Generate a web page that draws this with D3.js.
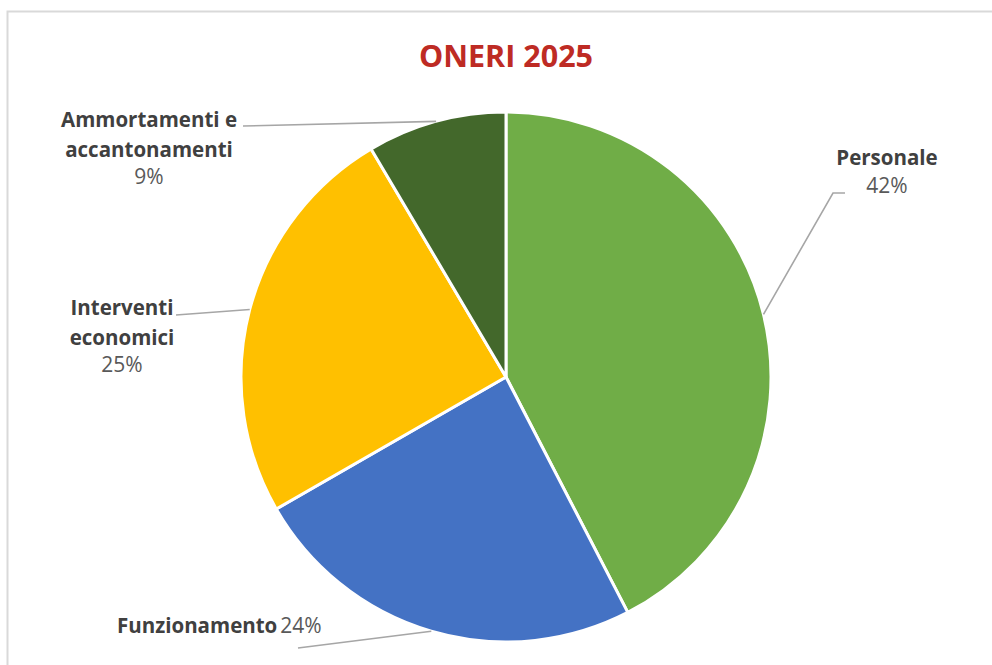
<!DOCTYPE html>
<html>
<head>
<meta charset="utf-8">
<script src="https://cdn.jsdelivr.net/npm/d3@7"></script>
<style>
  html, body { margin: 0; padding: 0; background: #fff; }
  svg { display: block; }
</style>
</head>
<body>
<svg id="chart" width="992" height="665"></svg>
<script>
// Cost breakdown for 2025
const categories = ["Personale", "Funzionamento", "Interventi economici", "Ammortamenti e accantonamenti"];
const shares = [42.4, 24.3, 24.8, 8.5];
const sliceColors = ["#70AD47", "#4472C4", "#FFC000", "#43682B"];
const labelLines = [["Personale"], ["Funzionamento"], ["Interventi", "economici"], ["Ammortamenti e", "accantonamenti"]];
const title = "ONERI 2025";

const W = 992, H = 665;
const cx = 506, cy = 377, R = 265;
const FONT = "'Open Sans', sans-serif";

const svg = d3.select("#chart");

// chart frame
svg.append("rect")
  .attr("x", 7.5).attr("y", 11.5)
  .attr("width", W + 20).attr("height", H + 20)
  .attr("fill", "#fff")
  .attr("stroke", "#d9d9d9").attr("stroke-width", 2);

svg.append("text")
  .attr("x", cx).attr("y", 67)
  .attr("text-anchor", "middle")
  .attr("font-family", FONT)
  .attr("font-weight", 700)
  .attr("font-size", 30.5)
  .attr("fill", "#BE2B24")
  .text(title);

const pie = d3.pie().sort(null).value(d => d);
const arcs = pie(shares);
const arc = d3.arc().innerRadius(0).outerRadius(R);
const edge = d3.arc().innerRadius(R).outerRadius(R);

const g = svg.append("g").attr("transform", `translate(${cx},${cy})`);
g.selectAll("path.slice")
  .data(arcs)
  .join("path")
  .attr("class", "slice")
  .attr("d", arc)
  .attr("fill", (d, i) => sliceColors[i])
  .attr("stroke", "#fff")
  .attr("stroke-width", 3)
  .attr("stroke-linejoin", "round");

// label placement: leader points (absolute) and text anchor
const layout = [
  { path: [[833, 193], [845, 193]], tx: 887, ty: 165, inline: false },
  { path: [[298, 648]], tx: 117, ty: 633, inline: true },
  { path: [[176, 315]], tx: 122, ty: 315, inline: false },
  { path: [[243, 126]], tx: 149, ty: 127, inline: false }
];

const pct = v => Math.round(v) + "%";

arcs.forEach((a, i) => {
  const [ex, ey] = edge.centroid(a);
  const pts = [[cx + ex, cy + ey]].concat(layout[i].path);
  svg.append("path")
    .attr("d", d3.line()(pts))
    .attr("fill", "none")
    .attr("stroke", "#A6A6A6")
    .attr("stroke-width", 1.6);

  const L = layout[i];
  const t = svg.append("text")
    .attr("font-family", FONT)
    .attr("font-size", 20.5)
    .attr("fill", "#404040");
  if (L.inline) {
    t.attr("x", L.tx).attr("y", L.ty).attr("text-anchor", "start");
    t.append("tspan").attr("font-weight", 700).text(labelLines[i][0]);
    t.append("tspan").attr("fill", "#595959").attr("font-size", 21).attr("dx", 3).text(pct(shares[i]));
  } else {
    t.attr("text-anchor", "middle");
    labelLines[i].forEach((line, k) => {
      t.append("tspan").attr("x", L.tx).attr("y", L.ty + k * 29.5)
        .attr("font-weight", 700).text(line);
    });
    t.append("tspan").attr("x", L.tx).attr("y", L.ty + labelLines[i].length * 29.5 - 2)
      .attr("fill", "#595959").attr("font-size", 21).text(pct(shares[i]));
  }
});
</script>
</body>
</html>
